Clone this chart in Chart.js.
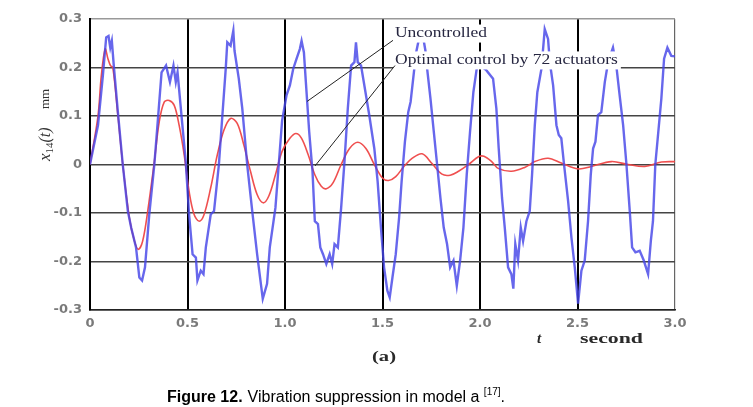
<!DOCTYPE html>
<html>
<head>
<meta charset="utf-8">
<script src="https://cdn.jsdelivr.net/npm/chart.js@4.4.0/dist/chart.umd.min.js"></script>
<style>
  html, body { margin: 0; padding: 0; background: #fff; overflow: hidden; }
  #wrap { position: relative; width: 753px; height: 407px; }
</style>
</head>
<body>
<div id="wrap"><canvas id="chart"></canvas></div>
<script>
// time axis (s) and displacement x14(t) (mm)
const tUncontrolled = [
  0, 0.041, 0.066, 0.083, 0.095, 0.104, 0.112, 0.122, 0.143, 0.168, 0.194, 0.211, 0.236, 0.253, 0.267, 0.282,
  0.304, 0.33, 0.35, 0.367, 0.39, 0.41, 0.428, 0.44, 0.449, 0.469, 0.491, 0.508, 0.526, 0.543, 0.551, 0.568,
  0.582, 0.594, 0.619, 0.636, 0.661, 0.679, 0.696, 0.704, 0.721, 0.735, 0.741, 0.763, 0.781, 0.806, 0.832, 0.857,
  0.874, 0.886, 0.908, 0.922, 0.939, 0.951, 0.968, 0.985, 1.008, 1.025, 1.042, 1.059, 1.076, 1.085, 1.097, 1.107,
  1.124, 1.141, 1.153, 1.169, 1.181, 1.195, 1.212, 1.229, 1.242, 1.254, 1.271, 1.288, 1.305, 1.322, 1.339, 1.356,
  1.364, 1.373, 1.39, 1.407, 1.432, 1.458, 1.475, 1.492, 1.508, 1.525, 1.537, 1.551, 1.568, 1.585, 1.598, 1.615,
  1.632, 1.644, 1.661, 1.672, 1.69, 1.705, 1.72, 1.729, 1.746, 1.763, 1.78, 1.797, 1.814, 1.831, 1.847, 1.864,
  1.881, 1.898, 1.915, 1.932, 1.949, 1.966, 1.983, 2.0, 2.033, 2.067, 2.084, 2.096, 2.113, 2.127, 2.144, 2.161,
  2.171, 2.181, 2.195, 2.209, 2.221, 2.238, 2.255, 2.267, 2.281, 2.294, 2.315, 2.332, 2.349, 2.358, 2.375, 2.392,
  2.404, 2.417, 2.431, 2.452, 2.469, 2.486, 2.503, 2.52, 2.537, 2.554, 2.568, 2.58, 2.592, 2.605, 2.622, 2.64,
  2.657, 2.682, 2.699, 2.716, 2.734, 2.751, 2.768, 2.78, 2.797, 2.819, 2.84, 2.862, 2.876, 2.887, 2.899, 2.913,
  2.93, 2.944, 2.961, 2.981, 3.0
];
const xUncontrolled = [
  0, 0.081, 0.183, 0.262, 0.265, 0.241, 0.255, 0.204, 0.108, 0, -0.096, -0.13, -0.171, -0.233, -0.239, -0.212,
  -0.103, 0, 0.102, 0.19, 0.204, 0.17, 0.204, 0.17, 0.19, 0.102, 0.006, -0.103, -0.185, -0.192, -0.239, -0.219,
  -0.226, -0.171, -0.103, -0.096, 0, 0.102, 0.197, 0.252, 0.245, 0.276, 0.235, 0.177, 0.115, 0, -0.096, -0.185,
  -0.239, -0.277, -0.246, -0.171, -0.123, -0.089, 0, 0.09, 0.143, 0.163, 0.197, 0.218, 0.238, 0.255, 0.231, 0.17,
  0.068, -0.014, -0.117, -0.123, -0.171, -0.185, -0.205, -0.185, -0.205, -0.164, -0.171, -0.089, 0.006, 0.115, 0.204, 0.211,
  0.252, 0.211, 0.204, 0.163, 0.102, 0.033, -0.035, -0.13, -0.212, -0.26, -0.274, -0.233, -0.185, -0.11, -0.035, 0.047,
  0.108, 0.129, 0.19, 0.23, 0.265, 0.27, 0.235, 0.197, 0.136, 0.068, 0, -0.069, -0.13, -0.164, -0.212, -0.198,
  -0.25, -0.198, -0.13, -0.021, 0.068, 0.149, 0.197, 0.205, 0.194, 0.177, 0.115, 0.033, -0.069, -0.13, -0.212, -0.226,
  -0.256, -0.164, -0.198, -0.13, -0.158, -0.117, -0.096, -0.021, 0.081, 0.149, 0.197, 0.279, 0.259, 0.211, 0.163, 0.081,
  0.061, 0.054, 0, -0.076, -0.151, -0.212, -0.287, -0.219, -0.198, -0.117, -0.021, 0.033, 0.047, 0.102, 0.108, 0.17,
  0.211, 0.241, 0.204, 0.143, 0.081, 0, -0.096, -0.171, -0.181, -0.178, -0.198, -0.226, -0.158, -0.117, 0, 0.061,
  0.136, 0.218, 0.241, 0.224, 0.223
];

const tControlled = [
  0, 0.041, 0.058, 0.078, 0.092, 0.105, 0.117, 0.143, 0.168, 0.202, 0.228, 0.248, 0.27, 0.296, 0.33, 0.355,
  0.381, 0.406, 0.432, 0.457, 0.483, 0.508, 0.534, 0.56, 0.585, 0.619, 0.653, 0.687, 0.721, 0.755, 0.789, 0.823,
  0.857, 0.888, 0.917, 0.951, 0.985, 1.025, 1.056, 1.085, 1.119, 1.153, 1.186, 1.212, 1.246, 1.288, 1.331, 1.373,
  1.415, 1.458, 1.5, 1.531, 1.568, 1.61, 1.653, 1.703, 1.754, 1.805, 1.847, 1.89, 1.941, 1.992, 2.02, 2.06,
  2.093, 2.161, 2.229, 2.281, 2.349, 2.417, 2.503, 2.571, 2.674, 2.759, 2.845, 2.93, 3.0
];
const xControlled = [
  0, 0.1, 0.183, 0.238, 0.218, 0.204, 0.2, 0.102, 0, -0.11, -0.158, -0.175, -0.158, -0.096, 0.006, 0.088,
  0.129, 0.132, 0.122, 0.081, 0.02, -0.055, -0.103, -0.117, -0.103, -0.048, 0.02, 0.071, 0.095, 0.085, 0.04, -0.014,
  -0.062, -0.079, -0.065, -0.021, 0.027, 0.054, 0.064, 0.054, 0.02, -0.021, -0.045, -0.05, -0.038, 0, 0.033, 0.046,
  0.033, 0, -0.028, -0.033, -0.025, -0.004, 0.013, 0.022, 0.002, -0.02, -0.022, -0.014, 0, 0.016, 0.017, 0.006,
  -0.008, -0.014, -0.006, 0.006, 0.013, 0.003, -0.009, -0.004, 0.006, 0, -0.004, 0.005, 0.006
];

const xTicks = [0, 0.5, 1.0, 1.5, 2.0, 2.5, 3.0];
const yTicks = [-0.3, -0.2, -0.1, 0, 0.1, 0.2, 0.3];

const labelUncontrolled = "Uncontrolled";
const labelControlled = "Optimal control by 72 actuators";

function fmt(v) {
  if (Math.abs(v) < 1e-9) return "0";
  return v.toFixed(1);
}

const toPoints = (ts, xs) => ts.map((t, i) => ({ x: t, y: xs[i] }));

// callouts with leader lines, placed in data units; span = text width in seconds
const notes = [
  { text: labelUncontrolled, t: 1.564, v: 0.27, span: 0.472, fromT: 1.113, fromV: 0.13, toT: 1.554, toV: 0.256 },
  { text: labelControlled, t: 1.564, v: 0.2146, span: 1.143, fromT: 1.154, fromV: -0.003, toT: 1.564, toV: 0.204 }
];

// draws text squeezed/stretched horizontally to a given width
function stretchText(ctx, text, x, y, width) {
  const w = ctx.measureText(text).width;
  ctx.save();
  ctx.translate(x, y);
  ctx.scale(width / w, 1);
  ctx.fillText(text, 0, 0);
  ctx.restore();
}

const calloutPlugin = {
  id: "callouts",
  afterDatasetsDraw(chart) {
    const { ctx, scales } = chart;
    const xs = scales.x, ys = scales.y;
    ctx.save();
    ctx.font = "14px 'Liberation Serif', 'DejaVu Serif', serif";
    ctx.textBaseline = "middle";
    notes.forEach(n => {
      const px = xs.getPixelForValue(n.t);
      const py = ys.getPixelForValue(n.v);
      const w = xs.getPixelForValue(n.t + n.span) - px;
      ctx.fillStyle = "#fff";
      ctx.fillRect(px - 2, py - 9, w + 5, 18);
    });
    notes.forEach(n => {
      const px = xs.getPixelForValue(n.t);
      const py = ys.getPixelForValue(n.v);
      const w = xs.getPixelForValue(n.t + n.span) - px;
      ctx.fillStyle = "#262640";
      stretchText(ctx, n.text, px, py, w);
      ctx.strokeStyle = "#222";
      ctx.lineWidth = 1;
      ctx.beginPath();
      ctx.moveTo(xs.getPixelForValue(n.fromT), ys.getPixelForValue(n.fromV));
      ctx.lineTo(xs.getPixelForValue(n.toT), ys.getPixelForValue(n.toV));
      ctx.stroke();
    });
    ctx.restore();
  },
  afterDraw(chart) {
    const { ctx, chartArea } = chart;
    ctx.save();
    ctx.fillStyle = "#333";
    ctx.textBaseline = "middle";

    // y-axis title, rotated: x14(t)   mm
    ctx.save();
    ctx.translate(46, 161);
    ctx.rotate(-Math.PI / 2);
    ctx.font = "italic 17px 'Liberation Serif', serif";
    ctx.fillText("x", 0, 0);
    let off = ctx.measureText("x").width;
    ctx.font = "11px 'Liberation Serif', serif";
    ctx.fillText("14", off, 4);
    off += ctx.measureText("14").width;
    ctx.font = "italic 16px 'Liberation Serif', serif";
    ctx.fillText("(t)", off, 0);
    ctx.font = "13px 'Liberation Serif', serif";
    ctx.fillText("mm", 52, 0);
    ctx.restore();

    // x-axis title
    ctx.fillStyle = "#2a2a2a";
    ctx.font = "italic bold 15px 'Liberation Serif', serif";
    ctx.fillText("t", chartArea.left + 447, chartArea.bottom + 29);
    ctx.font = "bold 15px 'Liberation Serif', serif";
    stretchText(ctx, "second", chartArea.left + 490, chartArea.bottom + 29, 63);
    stretchText(ctx, "(a)", chartArea.left + 282, chartArea.bottom + 47, 24);

    // caption
    ctx.fillStyle = "#000";
    ctx.textBaseline = "alphabetic";
    let cx = 167;
    const cy = 402;
    ctx.font = "bold 16px 'Liberation Sans', Arial, sans-serif";
    ctx.fillText("Figure 12.", cx, cy);
    cx += ctx.measureText("Figure 12.").width + 5;
    ctx.font = "16px 'Liberation Sans', Arial, sans-serif";
    const body = "Vibration suppression in model a ";
    ctx.fillText(body, cx, cy);
    cx += ctx.measureText(body).width;
    ctx.font = "10px 'Liberation Sans', Arial, sans-serif";
    ctx.fillText("[17]", cx, cy - 7);
    cx += ctx.measureText("[17]").width;
    ctx.font = "16px 'Liberation Sans', Arial, sans-serif";
    ctx.fillText(".", cx, cy);
    ctx.restore();
  }
};

const tickFont = { family: "'DejaVu Sans', Arial, sans-serif", size: 13, weight: "bold" };

new Chart(document.getElementById("chart"), {
  type: "line",
  data: {
    datasets: [
      {
        label: labelUncontrolled,
        data: toPoints(tUncontrolled, xUncontrolled),
        borderColor: "rgba(70, 70, 232, 0.82)",
        borderWidth: 2.4,
        pointRadius: 0,
        tension: 0
      },
      {
        label: labelControlled,
        data: toPoints(tControlled, xControlled),
        borderColor: "rgba(238, 70, 70, 0.95)",
        borderWidth: 1.6,
        pointRadius: 0,
        tension: 0.35
      }
    ]
  },
  options: {
    responsive: true,
    maintainAspectRatio: false,
    animation: false,
    layout: { padding: { left: 0, top: 19, right: 78, bottom: 0 } },
    plugins: { legend: { display: false }, tooltip: { enabled: false } },
    scales: {
      x: {
        type: "linear",
        min: xTicks[0],
        max: xTicks[xTicks.length - 1],
        afterBuildTicks: s => { s.ticks = xTicks.map(v => ({ value: v })); },
        afterFit: s => { s.height = 97; },
        ticks: { callback: v => fmt(v), color: "#7a7a7a", font: tickFont, padding: 6, maxRotation: 0 },
        grid: {
          drawTicks: false,
          color: c => (c.tick && c.tick.value === 3 ? "#666" : "#000"),
          lineWidth: c => (c.tick && c.tick.value === 3 ? 1.2 : 2)
        },
        border: { color: "#222", width: 1.5 }
      },
      y: {
        min: yTicks[0],
        max: yTicks[yTicks.length - 1],
        afterBuildTicks: s => { s.ticks = yTicks.map(v => ({ value: v })); },
        afterFit: s => { s.width = 90; },
        ticks: { callback: v => fmt(v), color: "#7a7a7a", font: tickFont, padding: 8 },
        grid: {
          drawTicks: false,
          color: c => (c.tick && Math.abs(c.tick.value - 0.3) < 1e-9 ? "#999" : "#444"),
          lineWidth: 1.5
        },
        border: { color: "#000", width: 2 }
      }
    }
  },
  plugins: [calloutPlugin]
});
</script>
</body>
</html>
